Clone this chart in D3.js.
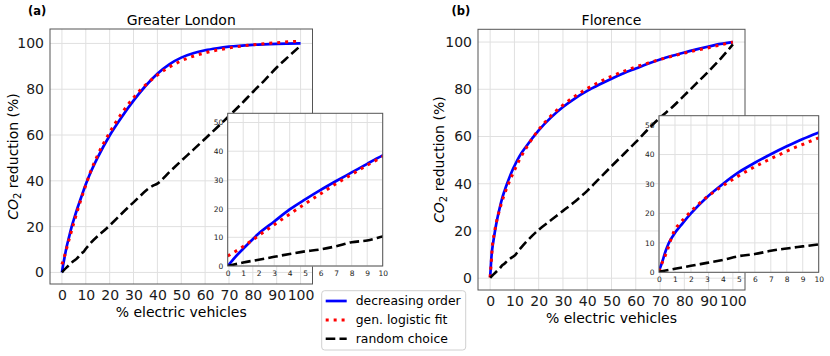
<!DOCTYPE html>
<html>
<head>
<meta charset="utf-8">
<script src="https://cdn.jsdelivr.net/npm/d3@7"></script>
<style>
  body { margin: 0; background: #fff; }
  svg { font-family: "DejaVu Sans", sans-serif; }
</style>
</head>
<body>
<script>
// tick values
const mainXTicks = [0, 10, 20, 30, 40, 50, 60, 70, 80, 90, 100];
const mainYTicks = [0, 20, 40, 60, 80, 100];
const insetXTicks = [0, 1, 2, 3, 4, 5, 6, 7, 8, 9, 10];
const insetYTicks = [0, 10, 20, 30, 40, 50];

// Greater London  [% EV, % CO2 reduction]
const londonDecreasing = [[0,0],[0.5,3.2],[1,6],[2,11.3],[3,15.5],[4,19.7],[5,23.2],[6,26.5],[7,29.6],[8,32.6],[9,35.6],[10,38.5],[12,43.6],[15,50.2],[20,59.8],[25,67.8],[30,75],[35,81.4],[40,86.8],[45,90.9],[50,93.8],[55,95.7],[60,97],[65,97.9],[70,98.6],[80,99.4],[90,99.8],[100,100]];
const londonFit = [[0,3.5],[1,6.8],[2,10.6],[3,14.4],[4,18.1],[5,21.7],[6,25.2],[7,28.7],[8,31.9],[9,35.1],[10,38.1],[12,44],[15,51.3],[20,61.1],[25,69.4],[30,76.3],[35,81.8],[40,86.2],[45,89.7],[50,92.4],[55,94.4],[60,95.9],[65,97.1],[70,98],[75,98.8],[80,99.4],[85,99.9],[90,100.3],[95,100.7],[100,101]];
const londonRandom = [[0,0],[1,1.2],[2,2.2],[3,3.2],[4,4.2],[5,5.1],[6,5.8],[7,6.9],[8,8.3],[9,8.9],[10,10.3],[20,20.5],[30,30.6],[38,37.8],[40,38.8],[45,43.8],[50,48.7],[55,53.5],[60,58.4],[65,63.3],[70,68.3],[75,73.4],[80,78.8],[85,84],[90,89.5],[95,94.3],[100,99]];

// Florence
const florenceDecreasing = [[0,0.5],[0.2,3.5],[0.4,7],[0.6,9.8],[0.9,12.6],[1.5,16.8],[2,20],[3,25.5],[4,30],[5,34],[6,37.2],[7,40.1],[8,42.8],[9,45.3],[10,47.5],[12,51.5],[15,56],[20,62.6],[25,68],[30,72.5],[35,76.2],[40,79.3],[45,82],[50,84.5],[55,86.8],[60,88.8],[65,90.8],[70,92.6],[75,94.2],[80,95.6],[85,96.9],[90,98.1],[95,99.2],[100,100]];
const florenceFit = [[0,0.3],[0.2,3.3],[0.4,5.8],[0.6,8.7],[0.75,11.2],[0.94,13.9],[1.25,16.3],[1.6,18.4],[2,20.7],[2.34,22.5],[2.73,24.4],[3.15,26.2],[3.57,27.8],[4,29.4],[4.45,31],[4.9,32.5],[5.34,33.9],[5.8,35.3],[6.26,36.6],[6.74,37.9],[7.2,39.1],[7.68,40.3],[8.14,41.5],[8.6,42.6],[9.12,43.7],[9.6,44.8],[10,45.7],[12,50],[15,55.4],[20,62.9],[25,68.7],[30,73.3],[35,77.1],[40,80.3],[45,83.1],[50,85.5],[55,87.6],[60,89.5],[65,91.1],[70,92.6],[75,94],[80,95.3],[85,96.5],[90,97.6],[95,98.8],[100,100]];
const florenceRandom = [[0,0.2],[1,1.2],[2,2.2],[3,3.2],[4,4.2],[5,5.5],[6,6.2],[7,7.3],[8,8.1],[9,8.8],[10,9.5],[12,12],[15,15.5],[20,20.5],[25,24.5],[30,28.5],[35,32.5],[40,37],[45,42.2],[50,47.4],[55,52.5],[60,57.6],[65,63],[70,68],[75,72.4],[80,77.4],[85,82.5],[90,87.6],[95,93],[100,99]];

const legendLabels = ["decreasing order", "gen. logistic fit", "random choice"];

const styles = [
  { color: "#0000ff", width: 2.7, dash: null },
  { color: "#ff0000", width: 3, dash: "3,4.95" },
  { color: "#000000", width: 2.6, dash: "9.6,4.2" }
];

const panels = [
  { tag: "(a)", title: "Greater London", series: [londonDecreasing, londonFit, londonRandom],
    box: { x0: 50, x1: 312.5, y0: 29, y1: 284 }, yDom: [-5.06, 106.3],
    inset: { x0: 227.7, x1: 382.7, y0: 113.3, y1: 266 },
    tagX: 28, ylabX: 13, xlabY: 316.5 },
  { tag: "(b)", title: "Florence", series: [florenceDecreasing, florenceFit, florenceRandom],
    box: { x0: 478, x1: 745, y0: 29.3, y1: 290 }, yDom: [-5, 105.4],
    inset: { x0: 659, x1: 818.7, y0: 115.7, y1: 272.3 },
    tagX: 451.5, ylabX: 439, xlabY: 323 }
];

const svg = d3.select("body").append("svg")
  .attr("width", 830).attr("height", 356);

const line = (x, y) => d3.line().x(d => x(d[0])).y(d => y(d[1])).curve(d3.curveMonotoneX);

function drawAxes(g, id, box, xDom, yDom, xTicks, yTicks, fontSize, pad) {
  const x = d3.scaleLinear().domain(xDom).range([box.x0, box.x1]);
  const y = d3.scaleLinear().domain(yDom).range([box.y1, box.y0]);

  g.append("rect")
    .attr("x", box.x0).attr("y", box.y0)
    .attr("width", box.x1 - box.x0).attr("height", box.y1 - box.y0)
    .attr("fill", "#fff");

  g.append("clipPath").attr("id", id)
    .append("rect")
    .attr("x", box.x0).attr("y", box.y0)
    .attr("width", box.x1 - box.x0).attr("height", box.y1 - box.y0);

  // grid
  g.append("g").selectAll("line").data(xTicks).join("line")
    .attr("x1", d => x(d)).attr("x2", d => x(d))
    .attr("y1", box.y0).attr("y2", box.y1)
    .attr("stroke", "#e0e0e0").attr("stroke-width", 1);
  g.append("g").selectAll("line").data(yTicks).join("line")
    .attr("y1", d => y(d)).attr("y2", d => y(d))
    .attr("x1", box.x0).attr("x2", box.x1)
    .attr("stroke", "#e0e0e0").attr("stroke-width", 1);

  const ax = g.append("g")
    .attr("transform", "translate(0," + box.y1 + ")")
    .call(d3.axisBottom(x).tickValues(xTicks).tickSize(0).tickPadding(pad));
  const ay = g.append("g")
    .attr("transform", "translate(" + box.x0 + ",0)")
    .call(d3.axisLeft(y).tickValues(yTicks).tickSize(0).tickPadding(pad));
  [ax, ay].forEach(a => {
    a.select(".domain").remove();
    a.selectAll("text").attr("font-size", fontSize).attr("fill", "#1a1a1a")
      .attr("font-family", "DejaVu Sans");
  });
  return { x, y };
}

function drawFrame(g, box) {
  g.append("rect")
    .attr("x", box.x0).attr("y", box.y0)
    .attr("width", box.x1 - box.x0).attr("height", box.y1 - box.y0)
    .attr("fill", "none").attr("stroke", "#555").attr("stroke-width", 1);
}

function drawSeries(g, id, sc, series) {
  const gl = g.append("g").attr("clip-path", "url(#" + id + ")");
  series.forEach((s, i) => {
    gl.append("path")
      .datum(s)
      .attr("d", line(sc.x, sc.y))
      .attr("fill", "none")
      .attr("stroke", styles[i].color)
      .attr("stroke-width", styles[i].width)
      .attr("stroke-dasharray", styles[i].dash);
  });
}

panels.forEach((p, k) => {
  const g = svg.append("g");
  const sc = drawAxes(g, "clipm" + k, p.box, [-5, 105], p.yDom, mainXTicks, mainYTicks, 14, 6);
  drawSeries(g, "clipm" + k, sc, p.series);
  drawFrame(g, p.box);

  const cx = (p.box.x0 + p.box.x1) / 2;
  const cy = (p.box.y0 + p.box.y1) / 2;

  g.append("text").attr("x", cx).attr("y", 25)
    .attr("text-anchor", "middle").attr("font-size", 14).text(p.title);
  g.append("text").attr("x", p.tagX).attr("y", 15)
    .attr("font-size", 11.5).attr("font-weight", "bold").text(p.tag);
  g.append("text").attr("x", cx).attr("y", p.xlabY)
    .attr("text-anchor", "middle").attr("font-size", 14).text("% electric vehicles");

  const yl = g.append("text")
    .attr("transform", "translate(" + (p.ylabX + 5) + "," + cy + ") rotate(-90)")
    .attr("text-anchor", "middle").attr("font-size", 14);
  yl.append("tspan").attr("font-style", "italic").text("CO");
  yl.append("tspan").attr("font-size", 10).attr("dy", 3).text("2");
  yl.append("tspan").attr("dy", -3).text(" reduction (%)");

  // inset
  const gi = svg.append("g");
  const si = drawAxes(gi, "clipi" + k, p.inset, [0, 10], [0, 53.2], insetXTicks, insetYTicks, 7.5, 4.5);
  drawSeries(gi, "clipi" + k, si, p.series);
  drawFrame(gi, p.inset);
});

// legend
const lg = svg.append("g").attr("transform", "translate(321.7,290.7)");
lg.append("rect").attr("width", 144).attr("height", 59.3).attr("rx", 3)
  .attr("fill", "#fff").attr("fill-opacity", 0.85)
  .attr("stroke", "#d0d0d0").attr("stroke-width", 1);
legendLabels.forEach((t, i) => {
  const yy = 10.3 + i * 18.9;
  lg.append("line").attr("x1", 4).attr("x2", 25).attr("y1", yy).attr("y2", yy)
    .attr("stroke", styles[i].color).attr("stroke-width", styles[i].width)
    .attr("stroke-dasharray", styles[i].dash);
  lg.append("text").attr("x", 34).attr("y", yy).attr("dy", "0.35em")
    .attr("font-size", 12.4).text(t);
});
</script>
</body>
</html>
